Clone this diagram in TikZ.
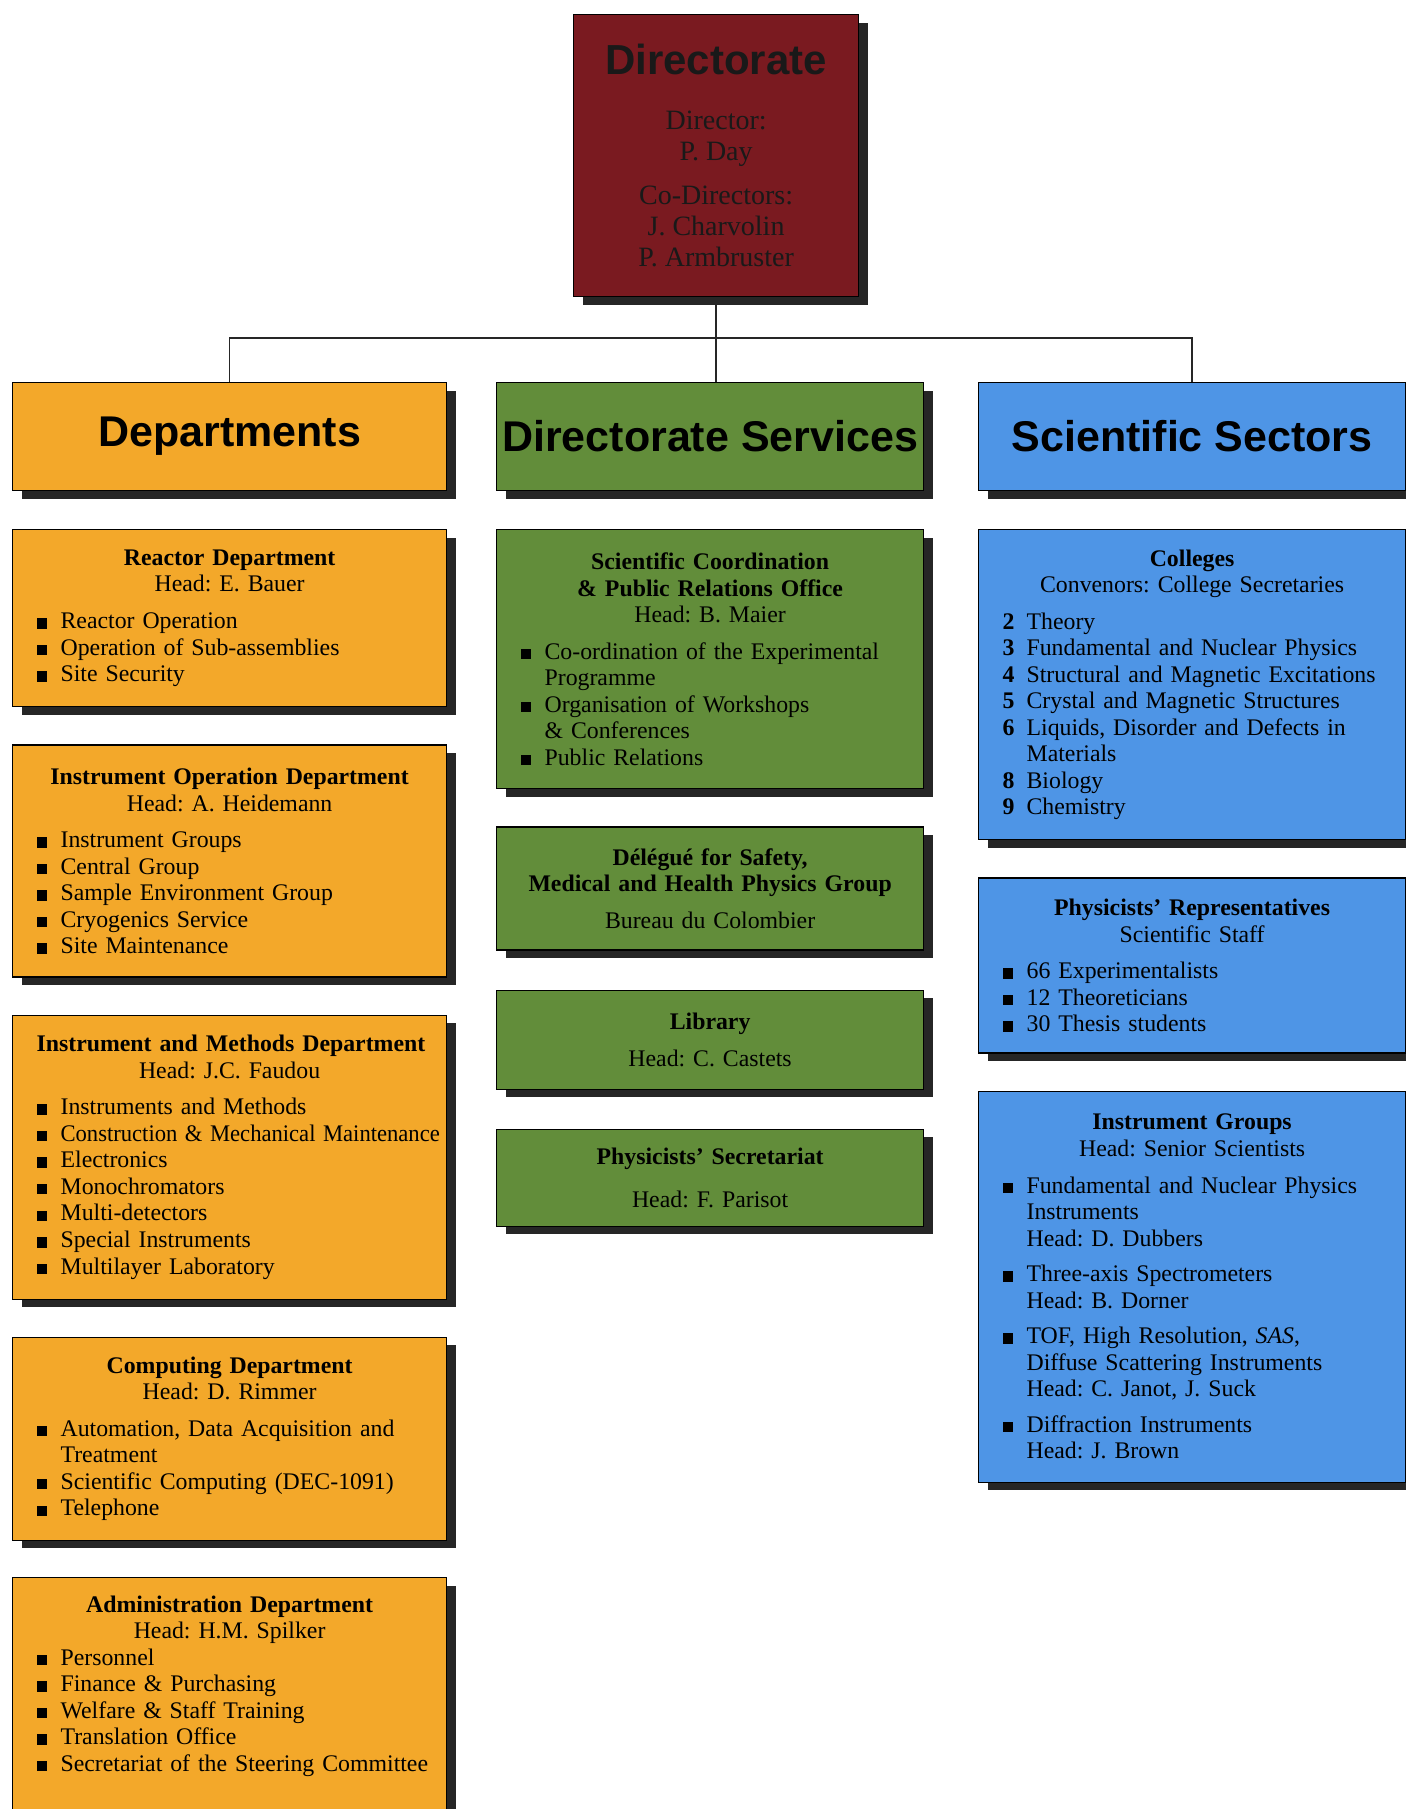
\documentclass[tikz,border=0pt]{standalone}
\usepackage{fontspec}
\setmainfont{Liberation Serif}
\setsansfont{Liberation Sans}
\usetikzlibrary{
    positioning,
    shadows
}

\definecolor{dirred}{RGB}{122,26,32}
\definecolor{deptorange}{RGB}{243,168,42}
\definecolor{svcgreen}{RGB}{98,141,58}
\definecolor{sectblue}{RGB}{78,149,230}

\newcommand{\sqbul}{\rule{5.2pt}{5.2pt}}
\newcommand{\unithead}[2]{{\centering\textbf{#1}\\#2\par}}
\newcommand{\bitem}[1]{\par\raggedright\hangindent=12pt\hangafter=1\noindent\makebox[12pt][l]{\sqbul}#1}
\newcommand{\nitem}[2]{\par\raggedright\hangindent=12pt\hangafter=1\noindent\makebox[12pt][l]{\textbf{#1}}#2}

\begin{document}
\frenchspacing
\begin{tikzpicture}[
    x=0.5pt, y=-0.5pt,
    every node/.style={font=\fontsize{11.9}{13.27}\selectfont},
    shade/.style={drop shadow={shadow xshift=4.5pt, shadow yshift=-4pt,
        opacity=1, fill=black!85}},
    header/.style={
        rectangle,
        draw=black,
        line width=0.6pt,
        shade,
        minimum height=54pt,
        inner sep=0pt,
        anchor=north west,
        font=\sffamily\bfseries\fontsize{21.5}{24}\selectfont
    },
    unit/.style={
        rectangle,
        draw=black,
        line width=0.6pt,
        shade,
        inner xsep=12pt,
        inner ysep=0pt
    },
    leftcol/.style={unit, fill=deptorange, text width=193pt},
    midcol/.style={unit, fill=svcgreen, text width=189.5pt},
    rightcol/.style={unit, fill=sectblue, text width=189.5pt},
    link/.style={draw=black!85, line width=0.75pt}
]
\useasboundingbox (0,0) rectangle (1405,1809);

% ---------- Directorate ----------
\node[rectangle, draw=black, line width=0.6pt, shade, fill=dirred,
      anchor=north west, minimum width=142.5pt, minimum height=141pt,
      align=center, text=black!90, font=\fontsize{14}{15.5}\selectfont]
    (dir) at (573,14)
    {{\sffamily\bfseries\fontsize{21}{24}\selectfont Directorate}\\[12pt]
     Director:\\ P. Day\\[6.5pt]
     Co-Directors:\\ J. Charvolin\\ P. Armbruster};

% ---------- Column heads ----------
\node[header, fill=deptorange, minimum width=217pt] (dept) at (12,382) {Departments};
\node[header, fill=svcgreen, minimum width=213.5pt] (svc) at (496,382) {Directorate Services};
\node[header, fill=sectblue, minimum width=213.5pt] (sect) at (978,382) {Scientific Sectors};

% ---------- Tree lines ----------
\coordinate (bus) at (dir.south |- 0,338);
\draw[link] (dir.south) -- (dir.south |- svc.north);
\draw[link] (dept.north) |- (bus) -| (sect.north);

% ---------- Departments ----------
\node[leftcol, below=19pt of dept, minimum height=88.5pt] (reactor) {
    \unithead{Reactor Department}{Head: E. Bauer}\vskip5pt
    \bitem{Reactor Operation}
    \bitem{Operation of Sub-assemblies}
    \bitem{Site Security}\par};

\node[leftcol, below=18.5pt of reactor, minimum height=116pt] (instop) {
    \unithead{Instrument Operation Department}{Head: A. Heidemann}\vskip5pt
    \bitem{Instrument Groups}
    \bitem{Central Group}
    \bitem{Sample Environment Group}
    \bitem{Cryogenics Service}
    \bitem{Site Maintenance}\par};

\node[leftcol, below=18.5pt of instop, minimum height=142pt] (instmeth) {
    \unithead{\mbox{Instrument and Methods Department}}{Head: J.C. Faudou}\vskip5pt
    \bitem{Instruments and Methods}
    \bitem{\scalebox{0.95}[1]{Construction \& Mechanical Maintenance}}
    \bitem{Electronics}
    \bitem{Monochromators}
    \bitem{Multi-detectors}
    \bitem{Special Instruments}
    \bitem{Multilayer Laboratory}\par};

\node[leftcol, below=18.5pt of instmeth, minimum height=101.5pt] (comp) {
    \unithead{Computing Department}{Head: D. Rimmer}\vskip5pt
    \bitem{Automation, Data Acquisition and\newline Treatment}
    \bitem{Scientific Computing (DEC-1091)}
    \bitem{Telephone}\par};

\node[leftcol, below=18pt of comp, inner ysep=9pt] (admin) {
    \unithead{Administration Department}{Head: H.M. Spilker}
    \bitem{Personnel}
    \bitem{Finance \& Purchasing}
    \bitem{Welfare \& Staff Training}
    \bitem{Translation Office}
    \bitem{\mbox{Secretariat of the Steering Committee}}
    \par\vskip28pt\hbox{}};

% ---------- Directorate services ----------
\node[midcol, below=19pt of svc, minimum height=129.5pt] (coord) {
    \unithead{Scientific Coordination\\\& Public Relations Office}{Head: B. Maier}\vskip5pt
    \bitem{Co-ordination of the Experimental\newline Programme}
    \bitem{Organisation of Workshops\newline \& Conferences}
    \bitem{Public Relations}\par};

\node[midcol, below=18.5pt of coord, minimum height=61.5pt] (safety) {
    {\centering\textbf{Délégué for Safety,\\Medical and Health Physics Group}\\[5pt]
     Bureau du Colombier\par}};

\node[midcol, below=19.5pt of safety, minimum height=49.5pt] (lib) {
    {\centering\textbf{Library}\\[5pt]Head: C. Castets\par}};

\node[midcol, below=19.5pt of lib, minimum height=48.5pt] (secr) {
    {\centering\textbf{Physicists' Secretariat}\\[8pt]Head: F. Parisot\par}};

% ---------- Scientific sectors ----------
\node[rightcol, below=19pt of sect, minimum height=155pt] (coll) {
    \unithead{Colleges}{Convenors: College Secretaries}\vskip5pt
    \nitem{2}{Theory}
    \nitem{3}{Fundamental and Nuclear Physics}
    \nitem{4}{Structural and Magnetic Excitations}
    \nitem{5}{Crystal and Magnetic Structures}
    \nitem{6}{Liquids, Disorder and Defects in\newline Materials}
    \nitem{8}{Biology}
    \nitem{9}{Chemistry}\par};

\node[rightcol, below=18.5pt of coll, minimum height=87.5pt] (reps) {
    \unithead{Physicists' Representatives}{Scientific Staff}\vskip5pt
    \bitem{66 Experimentalists}
    \bitem{12 Theoreticians}
    \bitem{30 Thesis students}\par};

\node[rightcol, below=18.5pt of reps, minimum height=195.5pt] (groups) {
    \unithead{Instrument Groups}{Head: Senior Scientists}\vskip5pt
    \bitem{Fundamental and Nuclear Physics\newline Instruments\newline Head: D. Dubbers}\vskip4.5pt
    \bitem{Three-axis Spectrometers\newline Head: B. Dorner}\vskip4.5pt
    \bitem{TOF, High Resolution, \textit{SAS},\newline Diffuse Scattering Instruments\newline Head: C. Janot, J. Suck}\vskip4.5pt
    \bitem{Diffraction Instruments\newline Head: J. Brown}\par};

\end{tikzpicture}
\end{document}
